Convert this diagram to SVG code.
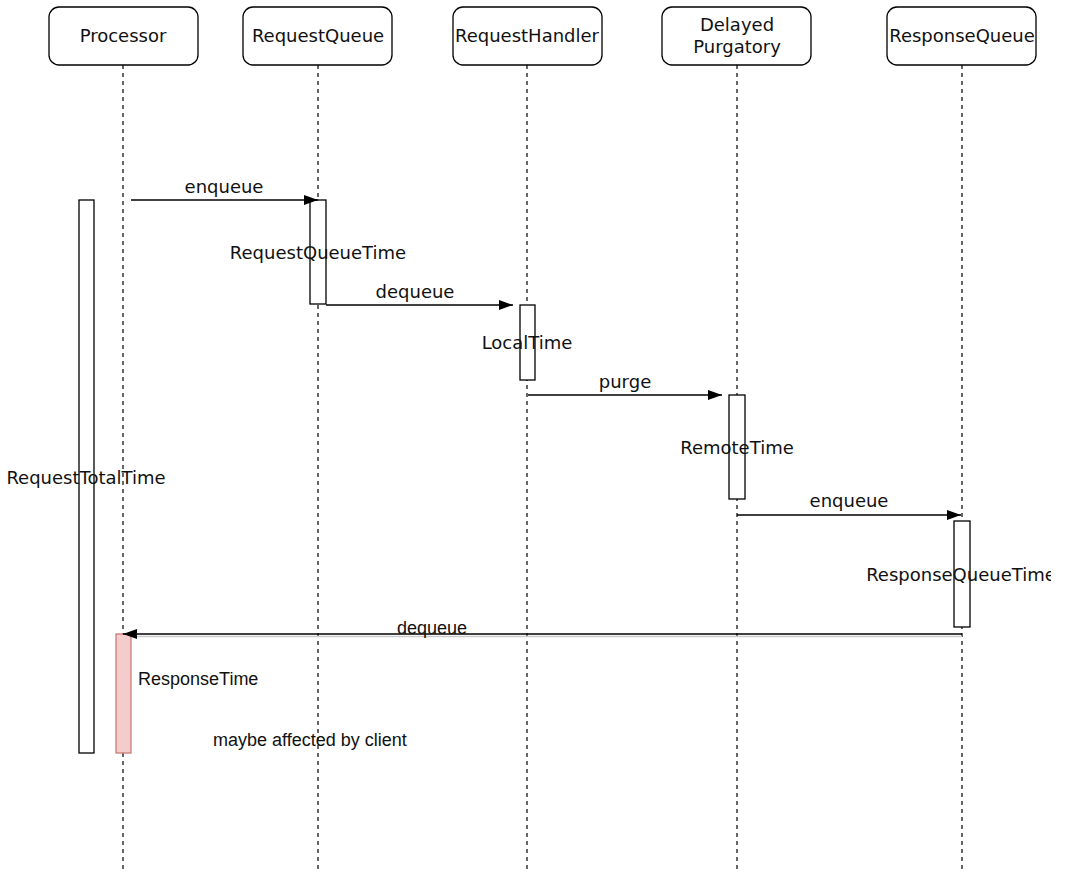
<svg xmlns="http://www.w3.org/2000/svg" width="1080" height="878" viewBox="0 0 1080 878">
<style>
.hdr{fill:#fff;stroke:#000;stroke-width:1.3}
.life{stroke:#000;stroke-width:1.2;stroke-dasharray:4,4;fill:none}
.act{fill:#fff;stroke:#000;stroke-width:1.3}
.msg{stroke:#000;stroke-width:1.3;fill:none}
.t{font-family:"DejaVu Sans",Verdana,sans-serif;font-size:18px;fill:#111;text-anchor:middle}
.h{font-family:"Liberation Sans",Arial,sans-serif;font-size:18px;fill:#111}
</style>
<defs>
<marker id="arr" viewBox="0 0 14 10" refX="14" refY="5" markerWidth="14" markerHeight="10" markerUnits="userSpaceOnUse" orient="auto">
<path d="M0,0 L14,5 L0,10 Z" fill="#000"/>
</marker>
<clipPath id="clipR"><rect x="0" y="0" width="1051" height="878"/></clipPath>
</defs>
<rect width="1080" height="878" fill="#fff"/>
<g id="lifelines">
<line class="life" x1="123" y1="65" x2="123" y2="870"/>
<line class="life" x1="318" y1="65" x2="318" y2="870"/>
<line class="life" x1="527" y1="65" x2="527" y2="870"/>
<line class="life" x1="737" y1="65" x2="737" y2="870"/>
<line class="life" x1="962" y1="65" x2="962" y2="870"/>
</g>
<g id="processor"><rect class="hdr" x="49" y="7" width="149" height="58" rx="10"/><text class="t" x="123" y="42">Processor</text></g>
<g id="requestqueue"><rect class="hdr" x="243" y="7" width="149" height="58" rx="10"/><text class="t" x="318" y="42">RequestQueue</text></g>
<g id="requesthandler"><rect class="hdr" x="453" y="7" width="149" height="58" rx="10"/><text class="t" x="527" y="42">RequestHandler</text></g>
<g id="delayedpurgatory"><rect class="hdr" x="662" y="7" width="149" height="58" rx="10"/><text class="t" x="737" y="31">Delayed</text><text class="t" x="737" y="53">Purgatory</text></g>
<g id="responsequeue"><rect class="hdr" x="887" y="7" width="149" height="58" rx="10"/><text class="t" x="962" y="42">ResponseQueue</text></g>
<g id="activations">
<rect class="act" x="79" y="200" width="15" height="553"/>
<rect class="act" x="310" y="200" width="16" height="104"/>
<rect class="act" x="520" y="305" width="15" height="75"/>
<rect class="act" x="729" y="395" width="16" height="104"/>
<rect class="act" x="954" y="521" width="16" height="106"/>
<rect x="116" y="634" width="15" height="119" fill="#f4cccc" stroke="#c27470" stroke-width="1.2"/>
</g>
<g id="connectors">
<line class="msg" x1="131" y1="200" x2="318" y2="200" marker-end="url(#arr)"/>
<line class="msg" x1="326" y1="305" x2="513" y2="305" marker-end="url(#arr)"/>
<line class="msg" x1="528" y1="395" x2="722" y2="395" marker-end="url(#arr)"/>
<line class="msg" x1="737" y1="515" x2="961" y2="515" marker-end="url(#arr)"/>
<line x1="962" y1="636.5" x2="131" y2="636.5" stroke="#ccc" stroke-width="1.5"/>
<line class="msg" x1="962" y1="634" x2="123" y2="634" marker-end="url(#arr)"/>
</g>
<g id="labels">
<text class="t" x="224" y="193">enqueue</text>
<text class="t" x="415" y="298">dequeue</text>
<text class="t" x="625" y="388">purge</text>
<text class="t" x="849" y="507">enqueue</text>
<rect x="396" y="619" width="72" height="14" fill="#fff"/>
<text class="h" x="432" y="634" text-anchor="middle">dequeue</text>
<text class="t" x="318" y="259">RequestQueueTime</text>
<text class="t" x="527" y="349">LocalTime</text>
<text class="t" x="737" y="454">RemoteTime</text>
<text class="t" x="961" y="581" clip-path="url(#clipR)">ResponseQueueTime</text>
<text class="t" x="86" y="484">RequestTotalTime</text>
<text class="h" x="138" y="685">ResponseTime</text>
<text class="h" x="213" y="746">maybe affected by client</text>
</g>
</svg>
